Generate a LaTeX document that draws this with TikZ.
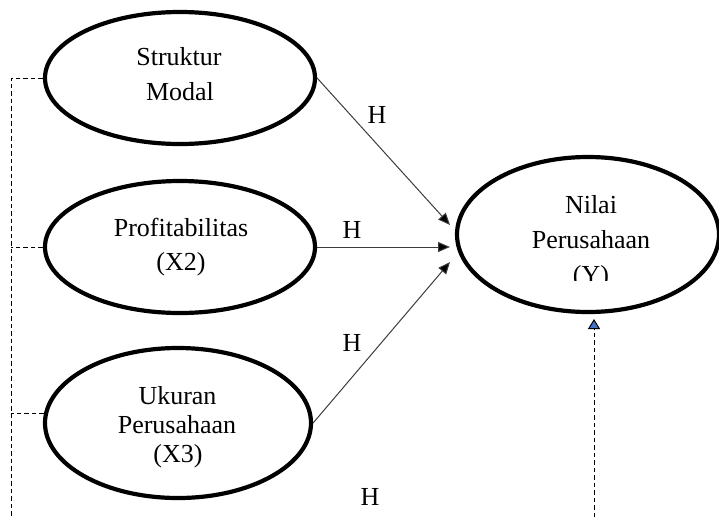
\documentclass[tikz,border=0pt]{standalone}
\usepackage{fontspec}
\setmainfont{Liberation Serif}
\usetikzlibrary{shapes.geometric,arrows.meta,calc}
\definecolor{blueish}{RGB}{68,114,196}
\definecolor{lineg}{RGB}{60,60,60}
\begin{document}
\begin{tikzpicture}[x=1pt,y=-1pt,
  oval/.style={draw=black,line width=4.2pt,ellipse,inner sep=0pt},
  lbl/.style={anchor=base,inner sep=0pt,font=\fontsize{26}{30}\selectfont},
  hyp/.style={draw=lineg,line width=1pt,-{Triangle[length=12pt,width=10pt,fill=black]}},
  dashln/.style={draw=black,line width=1pt,dash pattern=on 4.5pt off 3pt}
]
\useasboundingbox (0,0) rectangle (719,517);
% ellipses
\node[oval,minimum width=270,minimum height=132] (sm) at (180,78) {};
\node[oval,minimum width=270,minimum height=132] (pr) at (180,247) {};
\node[oval,minimum width=266,minimum height=150] (uk) at (178,423) {};
\node[oval,minimum width=262,minimum height=155] (ny) at (588,234.5) {};
% texts
\node[lbl] (ts1) at (179,65) {Struktur};
\node[lbl] (ts2) at (180,100) {Modal};
\node[lbl] (tp1) at (181,236) {Profitabilitas};
\node[lbl] (tp2) at (181,270) {(X2)};
\node[lbl] (tu1) at (177.5,404) {Ukuran};
\node[lbl] (tu2) at (177,433) {Perusahaan};
\node[lbl] (tu3) at (178,462) {(X3)};
\node[lbl] (ty1) at (591,213) {Nilai};
\node[lbl] (ty2) at (591,248) {Perusahaan};
\begin{scope}
  \clip (400,150) rectangle (719,280);
  \node[lbl] (ty3) at (591,283) {(Y)};
\end{scope}
% H labels
\node[lbl] (h1) at (377,123) {H};
\node[lbl] (h2) at (352,238) {H};
\node[lbl] (h3) at (352,351) {H};
\node[lbl] (h4) at (370,505) {H};
% arrow targets
\coordinate (t1) at (450,225);
\coordinate (t2) at (450,247);
\coordinate (t3) at (450,262);
\draw[hyp] (sm.east) -- (t1);
\draw[hyp] (pr.east) -- (t2);
\draw[hyp] (uk.east) -- (t3);
% dashed lines
\coordinate (lbot) at (11,517);
\draw[dashln] (sm.west) -- (sm.west -| lbot) -- (lbot);
\draw[dashln] (pr.west) -- (pr.west -| lbot);
\draw[dashln] (uk.176) -- (uk.176 -| lbot);
\coordinate (rbot) at (594,517);
\coordinate (rtip) at (594,319);
\draw[dashln,-{Triangle[length=10pt,width=12pt,fill=blueish]}] (rbot) -- (rtip);
\end{tikzpicture}
\end{document}
